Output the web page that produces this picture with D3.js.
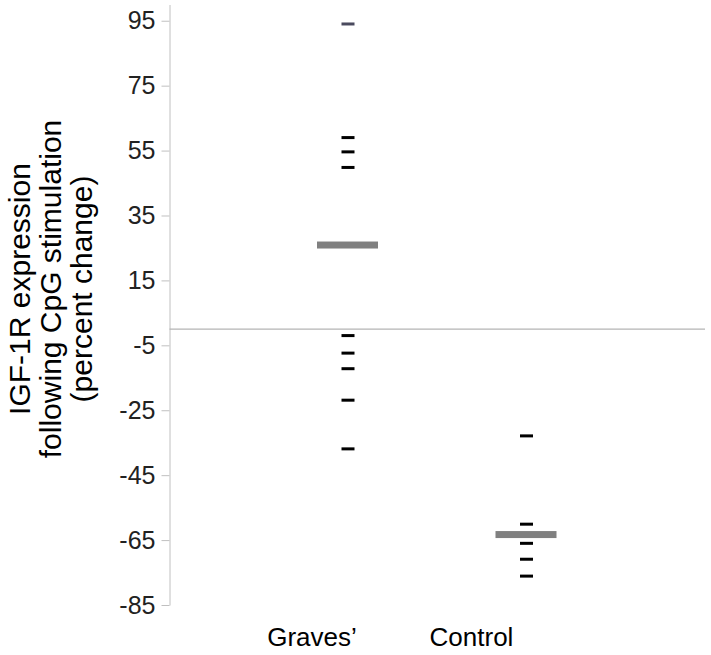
<!DOCTYPE html>
<html>
<head>
<meta charset="utf-8">
<script src="https://cdn.jsdelivr.net/npm/d3@7"></script>
<style>
  body { margin: 0; background: #fff; }
  svg { display: block; font-family: "Liberation Sans", Arial, sans-serif; }
  .axis path, .axis line { stroke: #c0c0c0; }
  .axis text { fill: #222; font-size: 25px; }
</style>
</head>
<body>
<div id="chart"></div>
<script>
(function () {
    "use strict";

    // data
    var categories = ["Graves\u2019", "Control"];
    var gravesValues = [94, 59, 54.6, 49.8, -2, -7.4, -12.2, -21.9, -36.9];
    var controlValues = [-32.9, -60.1, -66, -70.9, -76.1];
    var groupMeans = [25.9, -63.3];
    var tickValues = [95, 75, 55, 35, 15, -5, -25, -45, -65, -85];

    var width = 711, height = 655;
    var axisX = 169.5, plotRight = 705;
    var labelShift = [-36, -55]; // category labels sit left of their columns

    var svg = d3.select("#chart").append("svg")
        .attr("width", width)
        .attr("height", height);

    var y = d3.scaleLinear().domain([-85, 100]).range([605, 4.5]);
    var x = d3.scalePoint().domain(categories).range([axisX, plotRight]).padding(1);

    // y axis, plain hyphen for negatives
    svg.append("g")
        .attr("class", "axis")
        .attr("transform", "translate(" + axisX + ",0)")
        .call(d3.axisLeft(y).tickValues(tickValues).tickSize(8).tickSizeOuter(0).tickPadding(6)
            .tickFormat(function (d) { return String(d); }));

    // zero line
    svg.append("line")
        .attr("x1", axisX).attr("x2", plotRight)
        .attr("y1", y(0)).attr("y2", y(0))
        .attr("stroke", "#b4b4b4").attr("stroke-width", 1.2);

    var groups = [gravesValues, controlValues];

    // mean bars
    svg.selectAll(".mean").data(groupMeans).enter().append("rect")
        .attr("class", "mean")
        .attr("x", function (d, i) { return x(categories[i]) - 31; })
        .attr("y", function (d) { return y(d) - 3.5; })
        .attr("width", 61).attr("height", 7)
        .attr("fill", "#808080");

    // individual points as dashes
    groups.forEach(function (vals, i) {
        svg.selectAll(".pt" + i).data(vals).enter().append("rect")
            .attr("class", "pt" + i)
            .attr("x", x(categories[i]) - 6.5)
            .attr("y", function (d) { return y(d) - 1.5; })
            .attr("width", 13).attr("height", 3)
            .attr("fill", function (d, j) { return (i === 0 && j === 0) ? "#4a4a5e" : "#000"; });
    });

    // category labels
    svg.selectAll(".cat").data(categories).enter().append("text")
        .attr("class", "cat")
        .attr("x", function (d, i) { return x(d) + labelShift[i]; })
        .attr("y", 646)
        .attr("text-anchor", "middle")
        .attr("font-size", 26)
        .attr("fill", "#000")
        .text(function (d) { return d; });

    // y title
    var title = svg.append("text")
        .attr("transform", "translate(50,289) rotate(-90)")
        .attr("text-anchor", "middle")
        .attr("font-size", 30)
        .attr("fill", "#000");
    ["IGF-1R expression", "following CpG stimulation", "(percent change)"].forEach(function (t, i) {
        title.append("tspan").attr("x", 0).attr("y", (i - 1) * 31 + 11).text(t);
    });
}());
</script>
</body>
</html>
